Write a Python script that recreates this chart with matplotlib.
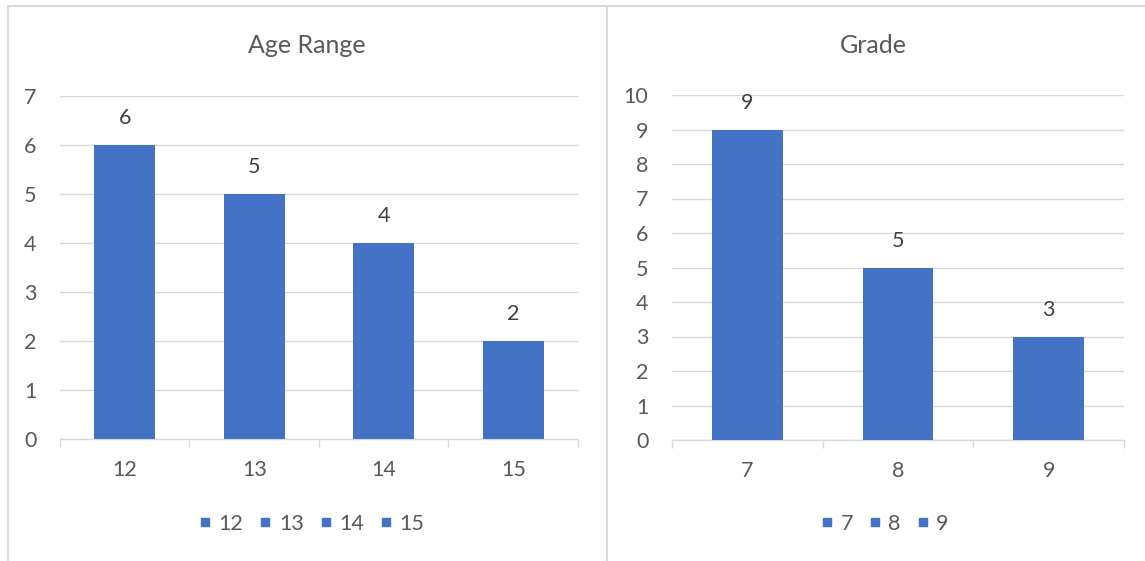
import matplotlib
matplotlib.use("Agg")
import matplotlib.pyplot as plt
from matplotlib.lines import Line2D

BAR_COLOR  = "#4472C4"
TEXT_COLOR = "#595959"
GRID_COLOR = "#D9D9D9"
FONT_SIZE  = 15.5

age_labels  = ["12", "13", "14", "15"]
age_counts  = [6, 5, 4, 2]
age_ticks   = [0, 1, 2, 3, 4, 5, 6, 7]

grade_labels = ["7", "8", "9"]
grade_counts = [9, 5, 3]
grade_ticks  = [0, 1, 2, 3, 4, 5, 6, 7, 8, 9, 10]

plt.rcParams["font.family"] = ["Lato", "DejaVu Sans"]

W, H = 1145, 561


def excel_bar(fig, ax, title, labels, counts, yticks, chart_cx, legend_cx):
    n = len(labels)
    xs = list(range(n))
    ax.bar(xs, counts, width=0.47, color=BAR_COLOR, zorder=3)
    for x, c in zip(xs, counts):
        ax.annotate(str(c), (x, c), xytext=(0, 12), textcoords="offset points",
                    ha="center", va="bottom", fontsize=FONT_SIZE, color="#404040")

    ax.set_xlim(-0.5, n - 0.5)
    ax.set_ylim(yticks[0], yticks[-1])
    ax.set_yticks(yticks)
    ax.set_xticks(xs)
    ax.set_xticklabels(labels)
    ax.set_xticks([i - 0.5 for i in range(n + 1)], minor=True)
    ax.tick_params(axis="x", which="major", length=0, pad=15, labelsize=FONT_SIZE,
                   labelcolor=TEXT_COLOR)
    ax.tick_params(axis="x", which="minor", length=6, width=1, color=GRID_COLOR)
    ax.tick_params(axis="y", length=0, pad=17, labelsize=FONT_SIZE,
                   labelcolor=TEXT_COLOR)

    ax.grid(axis="y", color=GRID_COLOR, linewidth=1, zorder=0)
    for side in ["left", "right", "top"]:
        ax.spines[side].set_visible(False)
    ax.spines["bottom"].set_color(GRID_COLOR)
    ax.spines["bottom"].set_linewidth(1)

    # title and legend are centred on the whole chart area, not the plot area
    fig.text(chart_cx / W, 1 - 53 / H, title, ha="center", va="baseline",
             fontsize=18, color=TEXT_COLOR)

    handles = [Line2D([], [], marker="s", linestyle="none", markersize=5.2,
                      color=BAR_COLOR) for _ in labels]
    fig.legend(handles, labels, loc="center",
               bbox_to_anchor=(legend_cx / W, 1 - 524 / H),
               ncol=n, frameon=False, fontsize=FONT_SIZE, labelcolor=TEXT_COLOR,
               handlelength=0.35, handletextpad=0.45,
               columnspacing=0.85, borderpad=0)


fig = plt.figure(figsize=(11.45, 5.61), dpi=100)

ax1 = fig.add_axes([60 / W, 1 - 439 / H, 518 / W, 343 / H])
excel_bar(fig, ax1, "Age Range", age_labels, age_counts, age_ticks, 307, 313)

ax2 = fig.add_axes([672 / W, 1 - 440 / H, 452 / W, 345 / H])
excel_bar(fig, ax2, "Grade", grade_labels, grade_counts, grade_ticks, 873, 886)

# chart frames
frame = dict(color=GRID_COLOR, linewidth=1.5, transform=fig.transFigure)
fig.add_artist(Line2D([8 / W, 1], [1 - 6 / H] * 2, **frame))
fig.add_artist(Line2D([8 / W] * 2, [0, 1 - 6 / H], **frame))
fig.add_artist(Line2D([607 / W] * 2, [0, 1 - 6 / H], **frame))

fig.savefig("out.png", dpi=100)
